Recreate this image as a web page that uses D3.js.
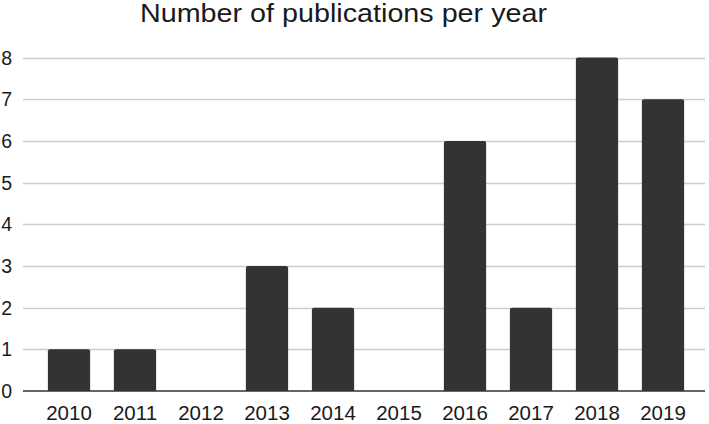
<!DOCTYPE html>
<html lang="en">
<head>
<meta charset="UTF-8">
<title>Number of publications per year</title>
<script src="https://cdn.jsdelivr.net/npm/d3@7"></script>
<style>
    html, body { margin: 0; padding: 0; background: #fff; }
    svg text { font-family: "Liberation Sans", Arial, sans-serif; fill: #1a1a1a; }
</style>
</head>
<body>
<svg id="chart" width="709" height="424"></svg>
<script>
    // chart data
    const years = ["2010", "2011", "2012", "2013", "2014", "2015", "2016", "2017", "2018", "2019"];
    const counts = [1, 1, 0, 3, 2, 0, 6, 2, 8, 7];
    const yTicks = [0, 1, 2, 3, 4, 5, 6, 7, 8];

    const svg = d3.select("#chart");
    const plotLeft = 23, plotRight = 705, plotTop = 57.5, plotBottom = 391;

    const x = d3.scaleBand()
        .domain(years)
        .range([36, 696])
        .paddingInner(0.36)
        .paddingOuter(0.18);

    const y = d3.scaleLinear()
        .domain([0, 8])
        .range([plotBottom, plotTop]);

    // title
    svg.append("text")
        .attr("x", 140)
        .attr("y", 22)
        .attr("textLength", 407)
        .attr("lengthAdjust", "spacingAndGlyphs")
        .style("font-size", "25px")
        .text("Number of publications per year");

    // grid lines
    svg.append("g")
        .selectAll("line")
        .data(yTicks.filter(d => d > 0))
        .join("line")
        .attr("x1", plotLeft)
        .attr("x2", plotRight)
        .attr("y1", d => Math.round(y(d)) + 0.5)
        .attr("y2", d => Math.round(y(d)) + 0.5)
        .attr("stroke", "#cccccc")
        .attr("stroke-width", 1.5);

    // y labels
    svg.append("g")
        .selectAll("text")
        .data(yTicks)
        .join("text")
        .attr("x", 12)
        .attr("y", d => y(d))
        .attr("dy", "0.36em")
        .attr("text-anchor", "end")
        .style("font-size", "19.5px")
        .text(d => d);

    // bars (rounded top corners)
    const r = 2;
    svg.append("g")
        .selectAll("path")
        .data(years.map((yr, i) => ({ yr, v: counts[i] })).filter(d => d.v > 0))
        .join("path")
        .attr("fill", "#333333")
        .attr("d", d => {
            const x0 = x(d.yr), w = x.bandwidth(), y0 = y(d.v), y1 = y(0);
            return `M${x0},${y1}V${y0 + r}Q${x0},${y0} ${x0 + r},${y0}H${x0 + w - r}Q${x0 + w},${y0} ${x0 + w},${y0 + r}V${y1}Z`;
        });

    // zero line
    svg.append("line")
        .attr("x1", plotLeft)
        .attr("x2", plotRight)
        .attr("y1", y(0))
        .attr("y2", y(0))
        .attr("stroke", "#333333")
        .attr("stroke-width", 1.5);

    // x labels
    svg.append("g")
        .selectAll("text")
        .data(years)
        .join("text")
        .attr("x", d => x(d) + x.bandwidth() / 2)
        .attr("y", 420)
        .attr("text-anchor", "middle")
        .style("font-size", "20.5px")
        .text(d => d);
</script>
</body>
</html>
